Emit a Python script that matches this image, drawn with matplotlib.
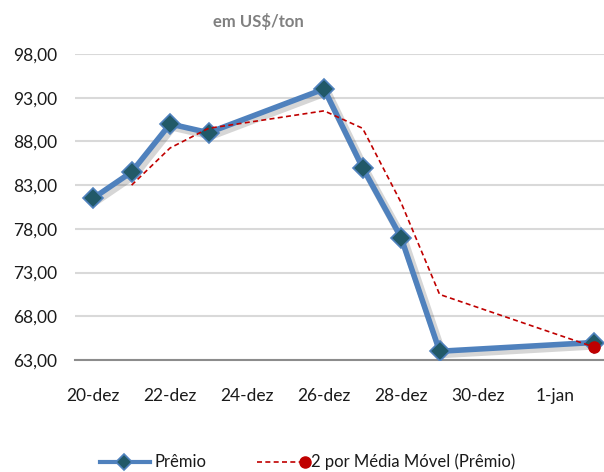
import matplotlib
matplotlib.use("Agg")
import matplotlib.pyplot as plt
import matplotlib.patheffects as pe
from matplotlib.lines import Line2D

plt.rcParams['font.family'] = ['Lato', 'DejaVu Sans']

# data (day offset from 20-dez)
days = [0, 1, 2, 3, 6, 7, 8, 9, 13]
premio = [81.5, 84.5, 90.0, 89.0, 94.0, 85.0, 77.0, 64.0, 65.0]
ma_days = [1, 2, 3, 6, 7, 8, 9, 13]
media_movel = [83.0, 87.25, 89.5, 91.5, 89.5, 81.0, 70.5, 64.5]
xtick_pos = [0, 2, 4, 6, 8, 10, 12]
xtick_labels = ['20-dez', '22-dez', '24-dez', '26-dez', '28-dez', '30-dez', '1-jan']
yticks = [63, 68, 73, 78, 83, 88, 93, 98]

fig = plt.figure(figsize=(6.04, 4.72), dpi=100)
ax = fig.add_axes([75/604, 1-360/472, 1-75/604, (360-54)/472])

ax.set_xlim(-0.47, 13.27)
ax.set_ylim(63, 98)
ax.set_yticks(yticks)
ax.set_yticklabels([f"{v:.2f}".replace('.', ',') for v in yticks])
ax.set_xticks(xtick_pos)
ax.set_xticklabels(xtick_labels)
ax.tick_params(axis='both', length=0, labelsize=12.5, colors='#1a1a1a')
ax.tick_params(axis='y', pad=13)
ax.tick_params(axis='x', pad=20)
for s in ['top', 'right', 'left']:
    ax.spines[s].set_visible(False)
ax.spines['bottom'].set_color('#8c8c8c')
ax.spines['bottom'].set_linewidth(1.5)
ax.grid(axis='y', color='#d9d9d9', linewidth=1.5)
ax.set_axisbelow(True)

ax.plot(days, premio, color='#4f81bd', linewidth=4,
        path_effects=[pe.SimpleLineShadow(offset=(2, -2), alpha=0.2, shadow_color='#333333', linewidth=6),
                      pe.Normal()],
        zorder=3)
ax.plot(days, premio, linestyle='none', marker='D', markersize=10,
        markerfacecolor='#215968', markeredgecolor='#4f81bd', markeredgewidth=1.2, zorder=3.5)
ax.plot(ma_days, media_movel, color='#c00000', linewidth=1.2, linestyle=(0, (3, 2)), zorder=4)
ax.plot(ma_days[-1:], media_movel[-1:], marker='o', markersize=8, color='#c00000', linestyle='none', zorder=5)

fig.text(258/604, 1-22/472, 'em US$/ton', ha='center', va='center', fontsize=12,
         fontweight='bold', color='#808080')

# legend
ly = 1 - 462/472
fig.add_artist(Line2D([100/604, 150/604], [ly, ly], color='#4f81bd', linewidth=3))
fig.add_artist(Line2D([124/604], [ly], marker='D', markersize=8, markerfacecolor='#215968',
                      markeredgecolor='#4f81bd', markeredgewidth=1.2))
fig.text(155/604, ly, 'Prêmio', ha='left', va='center', fontsize=12, color='#1a1a1a')
fig.add_artist(Line2D([257/604, 305/604], [ly, ly], color='#c00000', linewidth=1.2, linestyle=(0, (3, 2))))
fig.add_artist(Line2D([305/604], [ly], marker='o', markersize=8, color='#c00000'))
fig.text(311/604, ly, '2 por Média Móvel (Prêmio)', ha='left', va='center', fontsize=12, color='#1a1a1a')

fig.savefig('out.png', dpi=100)
